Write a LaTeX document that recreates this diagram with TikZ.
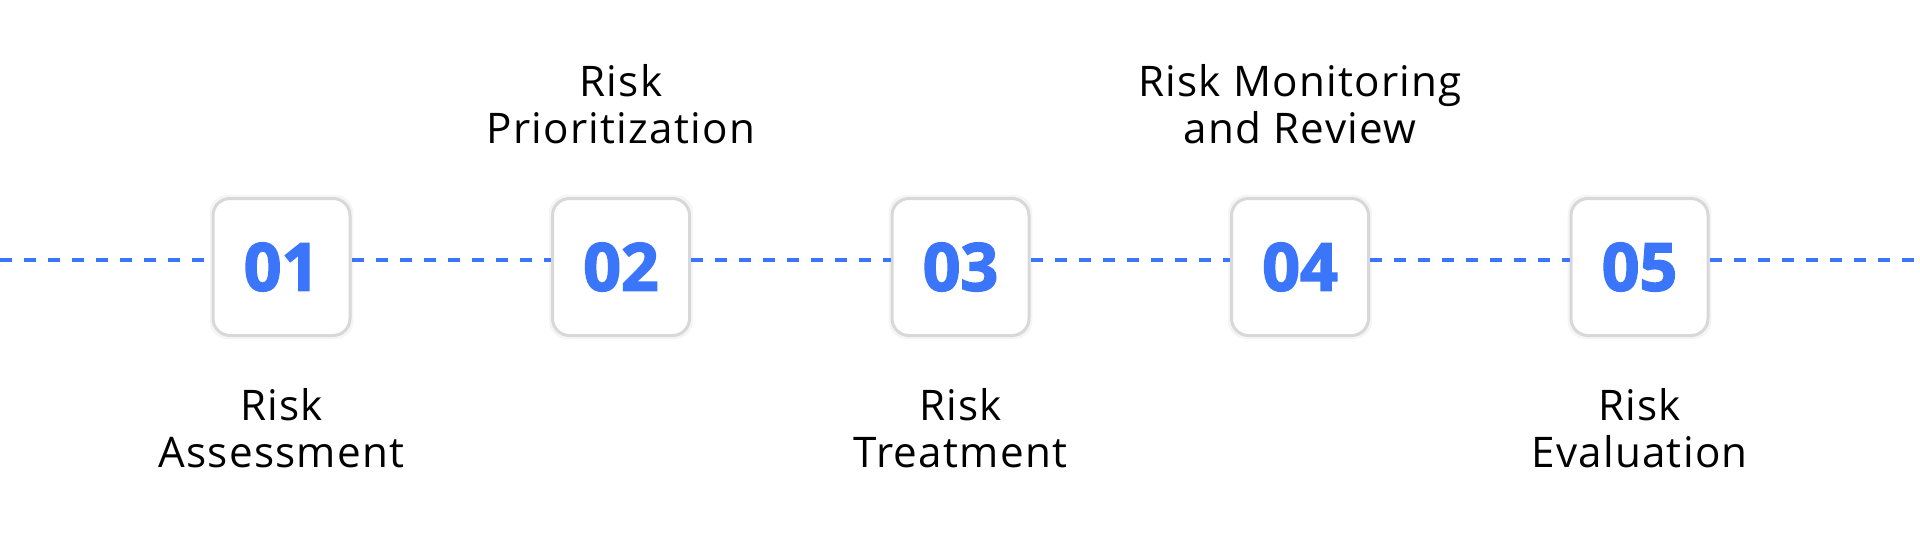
\documentclass[tikz,border=0pt]{standalone}
\usepackage{fontspec}
\usepackage{xcolor}
\usepackage{tikz}
\usetikzlibrary{shadows}
\newfontfamily\labelfont{Open Sans}[LetterSpace=3]
\newfontfamily\numfont{Open Sans}[FakeBold=2.5]
\definecolor{stepblue}{RGB}{59,118,250}
\definecolor{boxgray}{RGB}{216,216,216}

\begin{document}
\begin{tikzpicture}[
    stepbox/.style={rectangle, draw=boxgray, line width=0.3mm, fill=white, rounded corners=1.7mm, minimum size=1.37cm, inner sep=0pt,
        drop shadow={shadow xshift=0pt, shadow yshift=0pt, shadow scale=1.05, opacity=0.04, fill=black},
        font={\numfont\bfseries\fontsize{18.8pt}{20pt}\selectfont}, text=stepblue},
    label/.style={align=center, inner sep=0pt, anchor=north, font={\labelfont\fontsize{12pt}{13.2pt}\selectfont}},
    dashline/.style={draw=stepblue, line width=0.36mm, dash pattern=on 1.2mm off 1.2mm}
]
\useasboundingbox (0,0) rectangle (19.2,5.33);

% Line ends
\coordinate (lstart) at (0,2.73);
\coordinate (lend) at (19.2,2.73);

% Steps
\node[stepbox] (s1) at (2.815,2.66) {01};
\node[stepbox] (s2) at (6.21,2.66) {02};
\node[stepbox] (s3) at (9.605,2.66) {03};
\node[stepbox] (s4) at (13.0,2.66) {04};
\node[stepbox] (s5) at (16.395,2.66) {05};

% Labels above
\node[label] (prio) at (6.21,4.69) {Risk\\Prioritization};
\node[label] (monitor) at (13.0,4.69) {Risk Monitoring\\and Review};

% Labels below
\node[label] (assess) at (2.815,1.45) {Risk\\Assessment};
\node[label] (treat) at (9.605,1.45) {Risk\\Treatment};
\node[label] (eval) at (16.395,1.45) {Risk\\Evaluation};

% Dashed line
\draw[dashline] (lstart) -- (s1.west |- lstart);
\draw[dashline] (s1.east |- lstart) -- (s2.west |- lstart);
\draw[dashline] (s2.east |- lstart) -- (s3.west |- lstart);
\draw[dashline] (s3.east |- lstart) -- (s4.west |- lstart);
\draw[dashline] (s4.east |- lstart) -- (s5.west |- lstart);
\draw[dashline] (s5.east |- lstart) -- (lend);

\end{tikzpicture}
\end{document}
